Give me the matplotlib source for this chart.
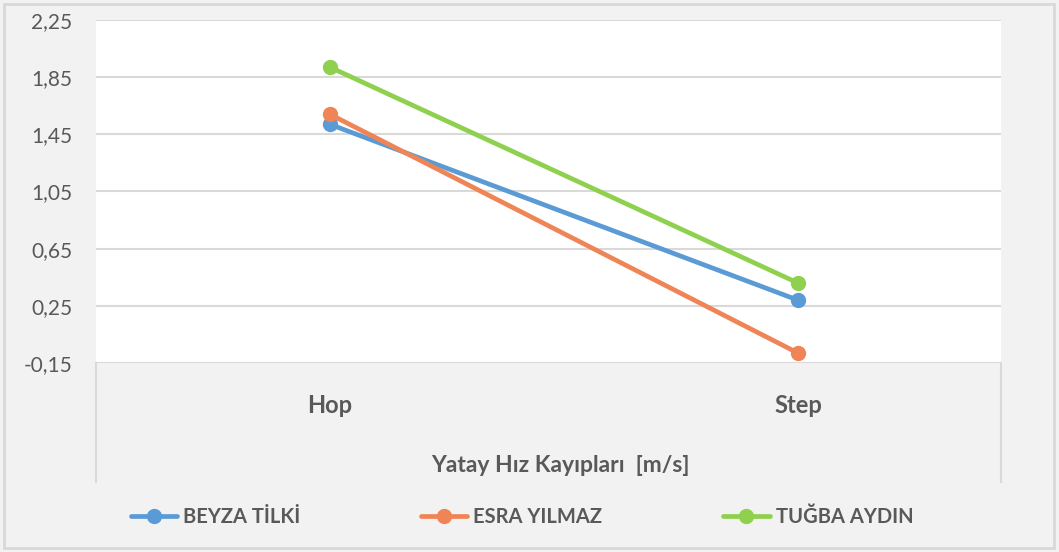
import matplotlib.pyplot as plt
from matplotlib.lines import Line2D
from matplotlib.patches import Rectangle

plt.rcParams['font.family'] = ['Lato', 'DejaVu Sans']

categories = ['Hop', 'Step']
beyza = [1.52, 0.29]
esra = [1.59, -0.08]
tugba = [1.92, 0.41]
series_names = ['BEYZA TİLKİ', 'ESRA YILMAZ', 'TUĞBA AYDIN']
colors = ['#5b9bd5', '#ef8556', '#8fd14f']
yticks = [-0.15, 0.25, 0.65, 1.05, 1.45, 1.85, 2.25]
ytick_labels = ['-0,15', '0,25', '0,65', '1,05', '1,45', '1,85', '2,25']

W, H = 1059, 552
fig = plt.figure(figsize=(W / 100, H / 100), dpi=100, facecolor='#f2f2f2')
ax = fig.add_axes([96 / W, 1 - 363 / H, (1001 - 96) / W, (363 - 20) / H])
ax.set_facecolor('white')

x = list(range(len(categories)))
for vals, name, c in zip([beyza, esra, tugba], series_names, colors):
    ax.plot(x, vals, color=c, lw=3.4, marker='o', ms=10, label=name,
            solid_capstyle='round', zorder=3)

ax.set_ylim(-0.15, 2.25)
ax.set_xlim(-0.5, 1.434)
ax.set_yticks(yticks)
ax.set_yticklabels(ytick_labels)
ax.yaxis.grid(True, color='#d9d9d9', lw=1.5)
ax.set_axisbelow(True)
for s in ax.spines.values():
    s.set_visible(False)
ax.tick_params(axis='y', length=0, pad=17, labelsize=15, labelcolor='#595959')
ax.set_xticks(x)
ax.set_xticklabels(categories, fontweight='bold')
ax.tick_params(axis='x', length=0, pad=22, labelsize=17, labelcolor='#595959')

# box under the category axis
for px in (96, 1001):
    fig.add_artist(Line2D([px / W, px / W], [1 - 363 / H, 1 - 482 / H],
                          color='#d9d9d9', lw=1.5))

fig.text(560 / W, 1 - 465 / H, 'Yatay Hız Kayıpları  [m/s]', ha='center', va='center',
         fontsize=16.5, fontweight='bold', color='#595959')

fig.add_artist(Rectangle((4 / W, 4 / H), (W - 9) / W, (H - 8) / H, transform=fig.transFigure,
                         fill=False, edgecolor='#d9d9d9', lw=2))

leg = fig.legend(loc='center', bbox_to_anchor=(522 / W, 1 - 517 / H), ncol=3, frameon=False,
                 handlelength=2.3, handletextpad=0.3, columnspacing=6.0,
                 prop={'size': 14.5, 'weight': 'bold'})
for t in leg.get_texts():
    t.set_color('#595959')

fig.savefig('out.png', dpi=100, facecolor=fig.get_facecolor())
